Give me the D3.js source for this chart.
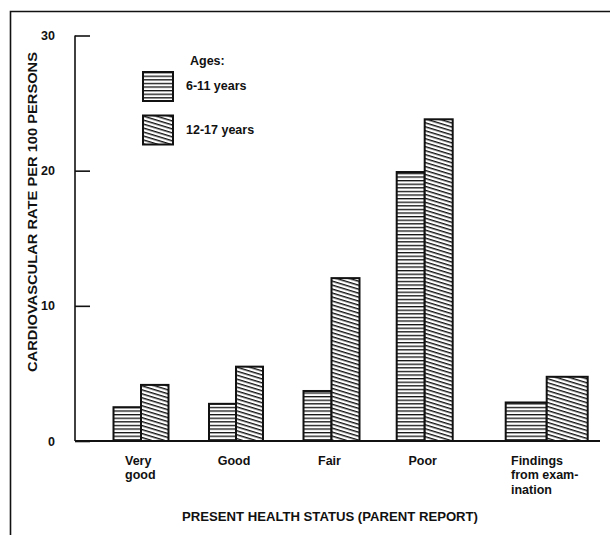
<!DOCTYPE html>
<html><head><meta charset="utf-8">
<script src="https://cdn.jsdelivr.net/npm/d3@7"></script>
<style>body{margin:0;background:#fff}svg{display:block;font-family:"Liberation Sans",Arial,sans-serif;font-weight:bold}</style>
</head><body><svg id="c" width="610" height="535"></svg>
<script>
const categories = ["Very good", "Good", "Fair", "Poor", "Findings from examination"];
const categoryLabels = [["Very", "good"], ["Good"], ["Fair"], ["Poor"], ["Findings", "from exam-", "ination"]];
const series = ["6-11 years", "12-17 years"];
const ages611 = [2.5, 2.75, 3.7, 19.9, 2.85];
const ages1217 = [4.15, 5.5, 12.05, 23.8, 4.75];
const yTicks = [0, 10, 20, 30];

const svg = d3.select("#c");
const defs = svg.append("defs");
const p1 = defs.append("pattern").attr("id", "hz").attr("patternUnits", "userSpaceOnUse")
  .attr("width", 6).attr("height", 3.6);
p1.append("rect").attr("width", 6).attr("height", 3.6).attr("fill", "#fff");
p1.append("rect").attr("y", 0).attr("width", 6).attr("height", 1.3).attr("fill", "#111");
const p2 = defs.append("pattern").attr("id", "dg").attr("patternUnits", "userSpaceOnUse")
  .attr("width", 6).attr("height", 3.8).attr("patternTransform", "rotate(17)");
p2.append("rect").attr("width", 6).attr("height", 3.8).attr("fill", "#fff");
p2.append("rect").attr("y", 0).attr("width", 6).attr("height", 1.4).attr("fill", "#111");

svg.append("path").attr("d", "M10.5,540 V11.5 H615").attr("fill", "none").attr("stroke", "#111").attr("stroke-width", 1.6);

const y = d3.scaleLinear().domain([0, 30]).range([441, 35.5]);
const xc = d3.scaleOrdinal().domain(categories).range([141, 236, 331.5, 424.7, 546.7]);
const bw = d3.scaleOrdinal().domain(categories).range([27.5, 27, 28, 28, 41]);

const yAxis = d3.axisRight(y).tickValues(yTicks).tickSize(15).tickFormat("");
const ya = svg.append("g").attr("transform", "translate(75,0)").call(yAxis);
ya.select(".domain").attr("stroke", "#111").attr("stroke-width", 1.6).attr("d", "M0," + y(30) + "V" + y(0));
ya.selectAll(".tick line").attr("stroke", "#111").attr("stroke-width", 1.6);
svg.append("g").selectAll("text").data(yTicks).join("text")
  .attr("x", 55).attr("y", d => y(d)).attr("dy", "0.36em").attr("text-anchor", "end")
  .attr("font-size", 12.5).attr("fill", "#111").text(d => d);

svg.append("line").attr("x1", 75).attr("x2", 600).attr("y1", y(0)).attr("y2", y(0))
  .attr("stroke", "#111").attr("stroke-width", 1.8);

const groups = svg.append("g").selectAll("g").data(categories).join("g");
groups.append("rect")
  .attr("x", d => xc(d) - bw(d)).attr("width", d => bw(d))
  .attr("y", (d, i) => y(ages611[i])).attr("height", (d, i) => y(0) - y(ages611[i]))
  .attr("fill", "url(#hz)").attr("stroke", "#111").attr("stroke-width", 2);
groups.append("rect")
  .attr("x", d => xc(d)).attr("width", d => bw(d))
  .attr("y", (d, i) => y(ages1217[i])).attr("height", (d, i) => y(0) - y(ages1217[i]))
  .attr("fill", "url(#dg)").attr("stroke", "#111").attr("stroke-width", 2);

categoryLabels.forEach((lines, i) => {
  const c = categories[i];
  const last = i === categories.length - 1;
  const lx = last ? 511 : (i === 0 ? 125 : xc(c) - 2);
  const t = svg.append("text").attr("font-size", 12.5).attr("fill", "#111")
    .attr("text-anchor", (last || i === 0) ? "start" : "middle");
  lines.forEach((l, j) => t.append("tspan").attr("x", lx).attr("y", 465 + j * 14.3).text(l));
});

svg.append("text").attr("x", 330).attr("y", 521).attr("text-anchor", "middle")
  .attr("font-size", 12).attr("fill", "#111").attr("textLength", 296).attr("lengthAdjust", "spacingAndGlyphs").text("PRESENT HEALTH STATUS (PARENT REPORT)");
svg.append("text").attr("transform", "translate(36.5,212) rotate(-90)").attr("text-anchor", "middle")
  .attr("font-size", 12).attr("fill", "#111").attr("textLength", 320).attr("lengthAdjust", "spacingAndGlyphs").text("CARDIOVASCULAR RATE PER 100 PERSONS");

const lg = svg.append("g");
lg.append("text").attr("x", 190).attr("y", 65).attr("font-size", 12.5).attr("fill", "#111").text("Ages:");
const fills = ["url(#hz)", "url(#dg)"];
series.forEach((s, i) => {
  lg.append("rect").attr("x", 143).attr("y", 72 + i * 43.5).attr("width", 30).attr("height", 29)
    .attr("fill", fills[i]).attr("stroke", "#111").attr("stroke-width", 2);
  lg.append("text").attr("x", 186).attr("y", 90 + i * 43.5).attr("font-size", 12.5).attr("fill", "#111").text(s);
});
</script></body></html>
